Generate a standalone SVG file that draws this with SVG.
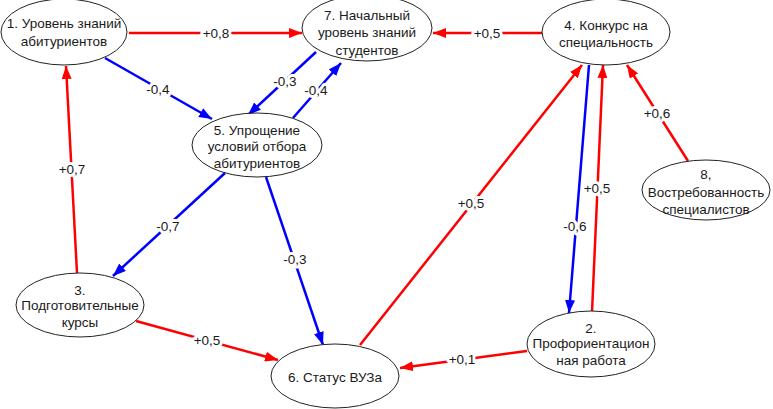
<svg xmlns="http://www.w3.org/2000/svg" width="773" height="409" viewBox="0 0 773 409">
<style>
.n ellipse{fill:#fff;stroke:#222;stroke-width:1}
.n text{font-family:"Liberation Sans",Arial,sans-serif;font-size:13.5px;fill:#1a1a1a;text-anchor:middle}
.r{stroke:#ff0000;stroke-width:2.5;fill:none;marker-end:url(#ar)}
.b{stroke:#0000ff;stroke-width:2.5;fill:none;marker-end:url(#ab)}
.l{font-family:"Liberation Sans",Arial,sans-serif;font-size:13.5px;fill:#1a1a1a;text-anchor:middle;stroke:#fff;stroke-width:6;paint-order:stroke;stroke-linejoin:round}
</style>
<defs>
<marker id="ar" markerUnits="userSpaceOnUse" markerWidth="14" markerHeight="10" refX="13" refY="5" orient="auto"><path d="M0,0 L13,5 L0,10 z" fill="#ff0000"/></marker>
<marker id="ab" markerUnits="userSpaceOnUse" markerWidth="14" markerHeight="10" refX="13" refY="5" orient="auto"><path d="M0,0 L13,5 L0,10 z" fill="#0000ff"/></marker>
</defs>
<rect width="773" height="409" fill="#fff"/>
<g id="connectors">
<line class="r" x1="129" y1="33" x2="302" y2="33"/>
<line class="r" x1="542" y1="33" x2="433" y2="33"/>
<line class="b" x1="105" y1="58" x2="212" y2="119"/>
<line class="b" x1="316" y1="52" x2="248" y2="115"/>
<line class="b" x1="293" y1="118" x2="341" y2="63"/>
<line class="r" x1="77" y1="273" x2="66" y2="66"/>
<line class="b" x1="225" y1="173" x2="113" y2="276"/>
<line class="b" x1="266" y1="177" x2="323" y2="345"/>
<line class="r" x1="360" y1="345" x2="582" y2="65"/>
<line class="b" x1="589" y1="65" x2="569" y2="313"/>
<line class="r" x1="592" y1="312" x2="603" y2="65"/>
<line class="r" x1="688" y1="161" x2="627" y2="65"/>
<line class="r" x1="136" y1="321" x2="278" y2="360"/>
<line class="r" x1="527" y1="351" x2="400" y2="368"/>
<text class="l" x="216" y="38">+0,8</text>
<text class="l" x="487" y="38">+0,5</text>
<text class="l" x="158" y="94">-0,4</text>
<text class="l" x="285" y="86">-0,3</text>
<text class="l" x="316" y="95">-0,4</text>
<text class="l" x="72" y="174">+0,7</text>
<text class="l" x="168" y="231">-0,7</text>
<text class="l" x="295" y="264">-0,3</text>
<text class="l" x="471" y="208">+0,5</text>
<text class="l" x="575" y="231">-0,6</text>
<text class="l" x="597" y="193">+0,5</text>
<text class="l" x="657" y="118">+0,6</text>
<text class="l" x="207" y="345">+0,5</text>
<text class="l" x="462" y="364">+0,1</text>
</g>
<g id="node1" class="n"><ellipse cx="64" cy="32" rx="63" ry="33"/><text x="64" y="28">1. Уровень знаний</text><text x="64" y="46">абитуриентов</text></g>
<g id="node7" class="n"><ellipse cx="367" cy="28" rx="65" ry="33"/><text x="367" y="20">7. Начальный</text><text x="367" y="37">уровень знаний</text><text x="367" y="55">студентов</text></g>
<g id="node4" class="n"><ellipse cx="606" cy="32" rx="64" ry="33"/><text x="606" y="30">4. Конкурс на</text><text x="606" y="47">специальность</text></g>
<g id="node5" class="n"><ellipse cx="257" cy="145" rx="65" ry="32"/><text x="257" y="135">5. Упрощение</text><text x="257" y="151">условий отбора</text><text x="257" y="168">абитуриентов</text></g>
<g id="node8" class="n"><ellipse cx="706" cy="190" rx="64" ry="30"/><text x="706" y="179">8,</text><text x="706" y="197">Востребованность</text><text x="706" y="214">специалистов</text></g>
<g id="node3" class="n"><ellipse cx="80" cy="305" rx="64" ry="32"/><text x="80" y="295">3.</text><text x="80" y="310">Подготовительные</text><text x="80" y="327">курсы</text></g>
<g id="node6" class="n"><ellipse cx="335" cy="376" rx="64" ry="32"/><text x="335" y="382">6. Статус ВУЗа</text></g>
<g id="node2" class="n"><ellipse cx="591" cy="344" rx="64" ry="33"/><text x="591" y="333">2.</text><text x="591" y="348">Профориентацион</text><text x="591" y="365">ная работа</text></g>
</svg>
